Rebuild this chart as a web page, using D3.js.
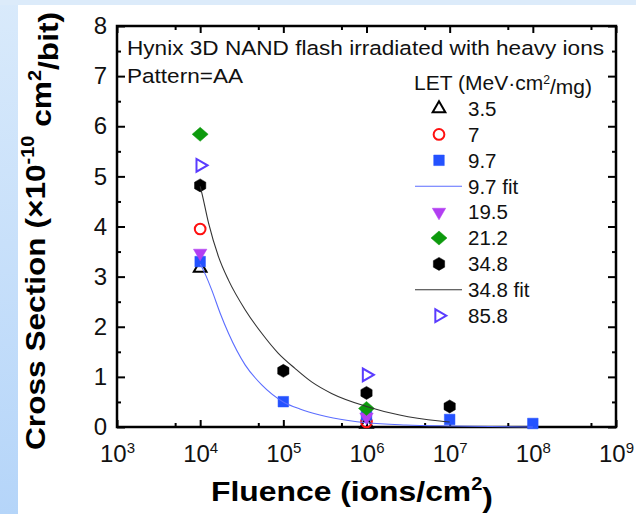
<!DOCTYPE html>
<html>
<head>
<meta charset="utf-8">
<title>Hynix 3D NAND cross section vs fluence</title>
<script src="https://d3js.org/d3.v7.min.js"></script>
<style>
  body { margin: 0; background: #fff; }
  svg text { font-family: "Liberation Sans", Arial, sans-serif; fill: #111; }
  .axis path { display: none; }
  .axis line { stroke: #000; stroke-width: 2; }
  .axis text { font-size: 24px; fill: #111; }
  .title { font-weight: bold; font-size: 28.5px; fill: #000; }
  .note { font-size: 20.5px; }
  .legend text { font-size: 20.5px; }
</style>
</head>
<body>
<svg width="636" height="514"></svg>
<script>
// tick values
const fluenceTicks = [1e3, 1e4, 1e5, 1e6, 1e7, 1e8, 1e9];
const fluenceMinor = [5e3, 5e4, 5e5, 5e6, 5e7, 5e8];
const csTicks = [0, 1, 2, 3, 4, 5, 6, 7, 8];
const csMinor = [0.5, 1.5, 2.5, 3.5, 4.5, 5.5, 6.5, 7.5];

// measured points [fluence, cross section], one array per LET
const let35 = [[1e4, 3.17], [1e6, 0.06]];
const let7 = [[1e4, 3.95], [1e6, 0.1]];
const let97 = [[1e4, 3.30], [1e5, 0.505], [1e6, 0.24], [1e7, 0.15], [1e8, 0.07]];
const let195 = [[1e4, 3.47], [1e6, 0.2]];
const let212 = [[1e4, 5.84], [1e6, 0.37]];
const let348 = [[1e4, 4.82], [1e5, 1.12], [1e6, 0.68], [1e7, 0.41]];
const let858 = [[1e4, 5.22], [1e6, 1.04]];

// fit curves
const fit97 = [[1e4, 3.25], [1.15e4, 3.05], [1.38e4, 2.73], [1.74e4, 2.27], [2.19e4, 1.87],
  [3.47e4, 1.24], [5.5e4, 0.84], [1e5, 0.5], [1.58e5, 0.36], [2.75e5, 0.24], [3.98e5, 0.18],
  [1e6, 0.085], [3e6, 0.04], [1e7, 0.02], [1e8, 0.0]];
const fit348 = [[1e4, 4.8], [1.05e4, 4.66], [1.26e4, 4.07], [1.66e4, 3.40], [2.19e4, 2.93],
  [3.47e4, 2.34], [5.5e4, 1.87], [8.71e4, 1.47], [1.38e5, 1.17], [2.19e5, 0.90], [3.8e5, 0.67],
  [1e6, 0.41], [2.5e6, 0.24], [7.6e6, 0.12], [1e7, 0.1]];

const svg = d3.select("svg");
const W = 636, H = 514;

// background with blue border strips
const defs = svg.append("defs");
const grad = defs.append("linearGradient").attr("id", "strip")
  .attr("x1", 0).attr("y1", 0).attr("x2", 0).attr("y2", 1);
grad.append("stop").attr("offset", "0%").attr("stop-color", "#d9eafb");
grad.append("stop").attr("offset", "100%").attr("stop-color", "#b5d5f9");
svg.append("rect").attr("width", W).attr("height", H).attr("fill", "#fff");
svg.append("rect").attr("width", 18).attr("height", H).attr("fill", "url(#strip)");
svg.append("rect").attr("width", W).attr("height", 5).attr("fill", "#dcebfa");

const x = d3.scaleLog().domain([1e3, 1e9]).range([117, 616]);
const y = d3.scaleLinear().domain([0, 8]).range([427, 26]);
const [x0, x1] = x.range(), [y0, y1] = y.range();

// axes: ticks inward on all sides
const bottom = svg.append("g").attr("class", "axis").attr("transform", `translate(0,${y0})`)
  .call(d3.axisBottom(x).tickValues(fluenceTicks).tickSize(-7).tickPadding(18));
bottom.selectAll(".tick text").text(null)
  .call(t => t.append("tspan").text("10"))
  .call(t => t.append("tspan").attr("dy", "-0.62em").attr("font-size", "15px")
    .text(d => Math.round(Math.log10(d))));
svg.append("g").attr("class", "axis").attr("transform", `translate(0,${y0})`)
  .call(d3.axisBottom(x).tickValues(fluenceMinor).tickSize(-4).tickFormat(""));
svg.append("g").attr("class", "axis").attr("transform", `translate(0,${y1})`)
  .call(d3.axisTop(x).tickValues(fluenceTicks).tickSize(-7).tickFormat(""));
svg.append("g").attr("class", "axis").attr("transform", `translate(0,${y1})`)
  .call(d3.axisTop(x).tickValues(fluenceMinor).tickSize(-4).tickFormat(""));

svg.append("g").attr("class", "axis").attr("transform", `translate(${x0},0)`)
  .call(d3.axisLeft(y).tickValues(csTicks).tickSize(-8).tickPadding(10));
svg.append("g").attr("class", "axis").attr("transform", `translate(${x0},0)`)
  .call(d3.axisLeft(y).tickValues(csMinor).tickSize(-4).tickFormat(""));
svg.append("g").attr("class", "axis").attr("transform", `translate(${x1},0)`)
  .call(d3.axisRight(y).tickValues(csTicks).tickSize(-8).tickFormat(""));
svg.append("g").attr("class", "axis").attr("transform", `translate(${x1},0)`)
  .call(d3.axisRight(y).tickValues(csMinor).tickSize(-4).tickFormat(""));

svg.append("rect").attr("x", x0).attr("y", y1).attr("width", x1 - x0).attr("height", y0 - y1)
  .attr("fill", "none").attr("stroke", "#000").attr("stroke-width", 2.5);

// custom symbols
const hexagon = {
  draw(ctx, size) {
    const r = Math.sqrt(size / (3 * Math.sqrt(3) / 2));
    for (let i = 0; i < 6; i++) {
      const a = (-90 + 60 * i) * Math.PI / 180;
      i ? ctx.lineTo(r * Math.cos(a), r * Math.sin(a)) : ctx.moveTo(r * Math.cos(a), r * Math.sin(a));
    }
    ctx.closePath();
  }
};
const wideDiamond = {
  draw(ctx, size) {
    const w = Math.sqrt(size / 1.75), h = 0.875 * w;
    ctx.moveTo(0, -h); ctx.lineTo(w, 0); ctx.lineTo(0, h); ctx.lineTo(-w, 0); ctx.closePath();
  }
};

const series = [
  { name: "3.5", data: let35, type: d3.symbolTriangle, size: 70, rot: 0, color: "#000", open: true },
  { name: "7", data: let7, type: d3.symbolCircle, size: 90, rot: 0, color: "#ff1010", open: true },
  { name: "9.7", data: let97, type: d3.symbolSquare, size: 112, rot: 0, color: "#2452ff", open: false },
  { name: "9.7 fit", fit: fit97, color: "#5b6dff" },
  { name: "19.5", data: let195, type: d3.symbolTriangle, size: 78, rot: 180, color: "#b23ef2", open: false },
  { name: "21.2", data: let212, type: wideDiamond, size: 112, rot: 0, color: "#0d9a0d", open: false },
  { name: "34.8", data: let348, type: hexagon, size: 110, rot: 0, color: "#000", open: false },
  { name: "34.8 fit", fit: fit348, color: "#333" },
  { name: "85.8", data: let858, type: d3.symbolTriangle, size: 70, rot: 90, color: "#5a3cff", open: true }
];

const line = d3.line().x(d => x(d[0])).y(d => y(d[1])).curve(d3.curveMonotoneX);

function styleMarker(sel, s) {
  sel.attr("d", d3.symbol(s.type, s.size))
    .attr("fill", s.open ? "none" : s.color)
    .attr("stroke", s.color)
    .attr("stroke-width", s.open ? 2 : 0.5);
}

const plot = svg.append("g");
series.forEach(s => {
  if (s.fit) {
    plot.append("path").attr("d", line(s.fit)).attr("fill", "none")
      .attr("stroke", s.color).attr("stroke-width", 1.1);
  } else {
    plot.selectAll(null).data(s.data).join("path")
      .attr("transform", d => `translate(${x(d[0])},${y(d[1])}) rotate(${s.rot})`)
      .call(styleMarker, s);
  }
});

// annotations
svg.append("text").attr("class", "note").attr("x", 127).attr("y", 55)
  .attr("textLength", 477).attr("lengthAdjust", "spacingAndGlyphs")
  .text("Hynix 3D NAND flash irradiated with heavy ions");
svg.append("text").attr("class", "note").attr("x", 127).attr("y", 83)
  .attr("textLength", 116).attr("lengthAdjust", "spacingAndGlyphs")
  .text("Pattern=AA");

// legend
const legend = svg.append("g").attr("class", "legend");
legend.append("text").attr("x", 414).attr("y", 90)
  .attr("textLength", 178).attr("lengthAdjust", "spacingAndGlyphs")
  .call(t => t.append("tspan").text("LET (MeV·cm"))
  .call(t => t.append("tspan").attr("dy", "-0.5em").attr("font-size", "12px").text("2"))
  .call(t => t.append("tspan").attr("dy", "0.5em").text("/mg)"));
series.forEach((s, i) => {
  const cy = 108.5 + i * 25.9;
  if (s.fit) {
    legend.append("line").attr("x1", 415).attr("x2", 462).attr("y1", cy).attr("y2", cy)
      .attr("stroke", s.color).attr("stroke-width", 1.1);
  } else {
    legend.append("path").attr("transform", `translate(439,${cy}) rotate(${s.rot})`)
      .call(styleMarker, s);
  }
  legend.append("text").attr("x", 468).attr("y", cy).attr("dy", "0.36em").text(s.name);
});

// axis titles
svg.append("text").attr("class", "title").attr("x", 352).attr("y", 501).attr("text-anchor", "middle")
  .attr("font-size", "27.5px")
  .attr("textLength", 282).attr("lengthAdjust", "spacingAndGlyphs")
  .call(t => t.append("tspan").text("Fluence (ions/cm"))
  .call(t => t.append("tspan").attr("dy", "-0.6em").attr("font-size", "18px").text("2"))
  .call(t => t.append("tspan").attr("dy", "0.6em").text(")"));
svg.append("text").attr("class", "title").attr("transform", "translate(45,231) rotate(-90)")
  .attr("text-anchor", "middle")
  .attr("textLength", 438).attr("lengthAdjust", "spacingAndGlyphs")
  .call(t => t.append("tspan").text("Cross Section (×10"))
  .call(t => t.append("tspan").attr("dy", "-0.6em").attr("font-size", "18px").text("-10"))
  .call(t => t.append("tspan").attr("dy", "0.6em").text(" cm"))
  .call(t => t.append("tspan").attr("dy", "-0.6em").attr("font-size", "18px").text("2"))
  .call(t => t.append("tspan").attr("dy", "0.6em").text("/bit)"));
</script>
</body>
</html>
